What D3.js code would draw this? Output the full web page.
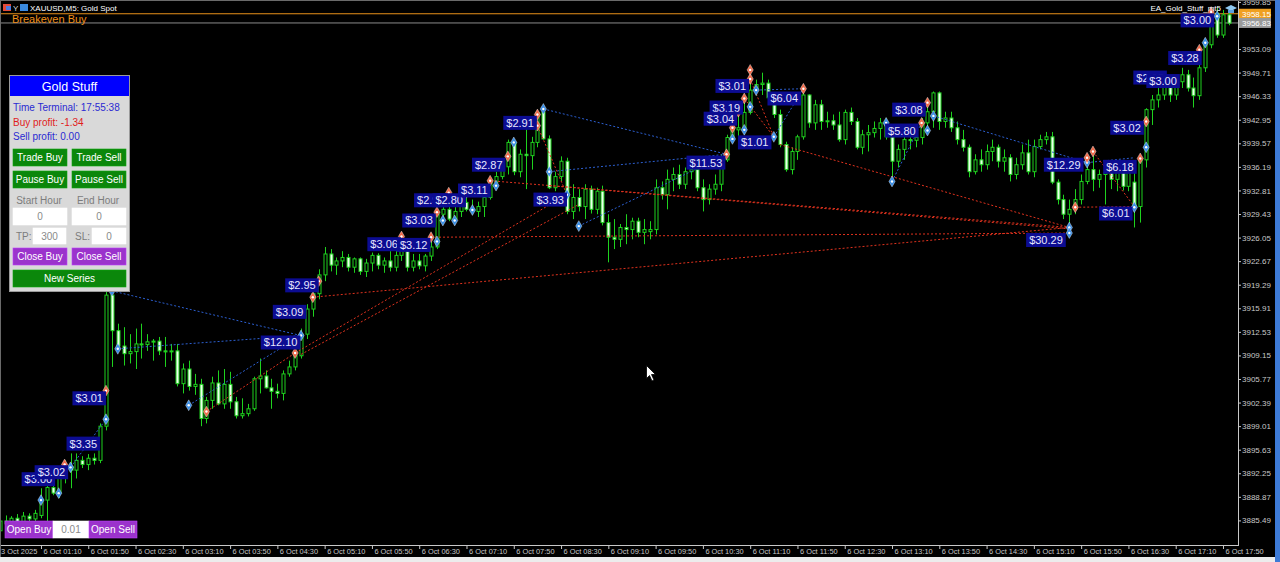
<!DOCTYPE html>
<html>
<head>
<meta charset="utf-8">
<script src="https://cdn.jsdelivr.net/npm/d3@7"></script>
<style>
  body { margin: 0; background: #000; overflow: hidden; }
  svg { display: block; }
  text { font-family: "Liberation Sans", Arial, sans-serif; }
</style>
</head>
<body>
<svg id="chart" width="1280" height="562"></svg>
<script>
// XAUUSD M5 bars, 3 Oct 23:35 .. 6 Oct 17:55
const opens = [3884.0,3885.4,3885.0,3885.8,3885.2,3886.1,3885.7,3886.2,3888.4,3890.2,
3889.4,3891.8,3893.2,3892.7,3894.1,3893.5,3894.4,3894.1,3899.0,3917.8,
3912.7,3910.5,3909.4,3909.7,3910.8,3910.7,3911.1,3911.2,3909.8,3909.7,
3909.8,3905.1,3907.2,3904.7,3905.0,3900.1,3902.7,3905.2,3902.2,3905.0,
3902.5,3900.5,3900.8,3901.5,3905.8,3906.2,3904.5,3904.0,3903.7,3906.5,
3907.5,3909.1,3912.2,3915.8,3918.0,3920.7,3923.7,3922.1,3922.7,3923.2,
3921.8,3923.0,3921.2,3922.4,3923.5,3922.1,3922.7,3921.8,3923.5,3925.1,
3921.8,3922.7,3922.0,3923.4,3924.7,3929.4,3930.1,3928.7,3929.8,3931.1,
3930.1,3929.8,3930.5,3931.8,3934.0,3934.8,3936.2,3939.7,3935.5,3938.0,
3937.8,3939.7,3944.0,3940.2,3933.2,3934.8,3937.0,3929.8,3931.8,3930.5,
3933.0,3930.1,3932.7,3928.2,3926.1,3925.8,3927.5,3927.2,3928.4,3926.8,
3926.9,3927.2,3933.2,3932.2,3934.4,3935.1,3933.7,3935.5,3935.8,3933.2,
3931.5,3933.0,3933.7,3937.2,3940.4,3941.5,3941.8,3944.0,3947.2,3948.0,
3948.2,3946.1,3943.7,3939.4,3935.8,3938.4,3940.5,3946.5,3942.5,3945.1,
3942.7,3942.8,3942.2,3940.1,3944.0,3942.7,3939.0,3940.8,3941.1,3941.7,
3942.5,3940.5,3937.0,3938.7,3940.1,3940.0,3940.4,3942.5,3944.1,3946.8,
3942.7,3943.2,3941.8,3940.1,3939.0,3935.5,3937.2,3936.5,3938.4,3939.0,
3937.0,3937.5,3935.1,3936.5,3938.2,3935.5,3939.1,3940.1,3940.5,3934.0,
3931.5,3929.4,3930.1,3931.5,3934.1,3935.8,3934.4,3935.1,3935.4,3934.4,
3935.4,3933.4,3934.0,3930.5,3937.2,3944.4,3945.8,3946.5,3948.0,3946.5,
3948.4,3949.4,3947.5,3946.4,3950.4,3953.7,3958.2,3955.1,3958.0];
const highs = [3885.8,3886.2,3886.1,3886.4,3886.7,3886.5,3887.0,3890.1,3890.5,3892.2,
3892.5,3894.1,3895.1,3895.1,3894.7,3895.0,3895.1,3899.4,3919.0,3918.7,
3913.7,3913.2,3912.2,3913.0,3913.7,3912.2,3911.5,3911.8,3911.8,3910.8,
3910.8,3908.0,3908.4,3906.5,3905.8,3903.2,3906.1,3907.0,3907.2,3906.8,
3903.2,3903.0,3902.2,3906.1,3908.7,3907.0,3905.8,3905.1,3907.0,3908.4,
3909.8,3913.0,3916.5,3918.7,3921.5,3924.7,3924.4,3923.2,3924.1,3923.7,
3923.2,3923.2,3923.0,3923.9,3923.8,3923.2,3924.1,3924.1,3926.4,3925.5,
3923.7,3923.7,3923.7,3925.8,3930.1,3930.8,3933.0,3931.5,3931.8,3933.0,
3931.5,3931.2,3932.7,3934.7,3935.5,3937.2,3940.1,3940.1,3938.7,3942.2,
3940.5,3944.1,3945.1,3940.7,3935.5,3937.7,3937.5,3933.7,3933.0,3933.7,
3933.5,3933.2,3933.5,3929.4,3928.7,3928.0,3929.4,3928.9,3928.9,3928.7,
3928.4,3934.4,3934.1,3935.8,3936.1,3936.5,3936.1,3937.0,3936.5,3934.4,
3933.7,3935.1,3938.0,3940.8,3942.2,3944.4,3946.1,3950.4,3948.7,3949.7,
3948.7,3946.5,3944.4,3939.8,3939.0,3940.8,3947.5,3946.6,3945.8,3945.8,
3944.1,3943.7,3944.1,3944.4,3944.7,3943.2,3941.5,3942.2,3942.7,3943.2,
3943.2,3941.2,3939.4,3940.8,3941.2,3941.5,3943.2,3945.8,3947.0,3947.0,
3944.1,3944.1,3942.7,3941.5,3939.4,3938.0,3938.7,3939.4,3940.1,3939.4,
3938.7,3938.0,3937.5,3939.4,3940.1,3940.1,3940.8,3941.2,3941.2,3934.4,
3932.2,3931.5,3933.0,3935.1,3937.2,3938.7,3935.8,3936.8,3936.1,3936.1,
3936.5,3936.5,3935.6,3937.6,3944.6,3946.5,3947.5,3949.0,3948.7,3949.0,
3950.4,3950.1,3949.0,3951.2,3954.4,3958.7,3959.0,3958.7,3958.4];
const lows = [3883.2,3884.7,3884.4,3884.8,3884.8,3885.1,3885.4,3885.8,3885.1,3889.1,
3888.7,3890.8,3890.1,3891.5,3893.0,3892.7,3893.5,3893.7,3898.4,3907.5,
3909.8,3907.7,3908.0,3907.2,3908.7,3909.8,3908.4,3909.2,3907.5,3908.4,
3904.7,3903.7,3904.1,3903.5,3899.0,3899.4,3901.5,3902.0,3901.5,3901.5,
3900.1,3900.1,3900.4,3901.2,3903.7,3904.4,3901.5,3903.0,3902.7,3906.1,
3907.0,3908.7,3911.5,3914.7,3917.2,3919.8,3921.2,3920.7,3921.8,3921.2,
3921.0,3920.7,3920.4,3921.2,3921.5,3921.0,3921.2,3921.2,3922.7,3921.2,
3921.2,3921.5,3921.2,3922.7,3924.4,3928.0,3928.4,3928.0,3929.0,3929.8,
3929.4,3929.0,3929.0,3931.5,3933.2,3934.4,3935.1,3935.0,3934.7,3933.0,
3935.8,3939.0,3940.1,3933.0,3932.7,3934.1,3929.4,3928.7,3929.8,3928.7,
3929.5,3929.4,3927.8,3922.5,3924.4,3924.7,3925.1,3925.8,3926.1,3925.1,
3925.8,3926.5,3931.5,3930.1,3932.7,3933.0,3933.0,3934.4,3932.7,3929.8,
3930.8,3932.2,3932.7,3936.9,3939.8,3940.5,3940.8,3943.7,3946.4,3946.5,
3945.8,3943.2,3939.0,3935.5,3935.1,3937.2,3940.1,3941.8,3941.5,3941.5,
3941.8,3941.5,3939.8,3939.4,3942.2,3938.7,3938.0,3938.4,3940.4,3940.1,
3940.1,3934.1,3936.1,3937.2,3938.7,3939.0,3939.4,3940.8,3941.8,3941.5,
3941.8,3941.2,3939.4,3938.4,3934.7,3935.1,3935.5,3935.8,3937.0,3936.1,
3935.5,3934.1,3934.4,3935.8,3935.1,3934.7,3938.7,3939.4,3933.7,3930.8,
3928.7,3926.5,3929.4,3930.8,3933.7,3932.7,3933.2,3930.8,3933.0,3932.7,
3932.8,3932.7,3927.5,3928.2,3936.1,3942.2,3944.7,3945.8,3945.5,3945.8,
3947.5,3947.0,3944.7,3945.8,3949.8,3953.2,3954.7,3954.7,3956.5];
const closes = [3885.4,3885.0,3885.8,3885.2,3886.1,3885.7,3886.5,3888.4,3890.2,3889.4,
3891.8,3893.2,3892.7,3894.1,3893.5,3894.4,3894.1,3899.0,3917.8,3912.7,
3910.5,3909.4,3909.7,3910.8,3910.7,3911.1,3911.2,3909.8,3909.7,3909.8,
3905.1,3907.2,3904.7,3905.0,3900.1,3902.7,3905.2,3902.2,3905.0,3902.5,
3900.5,3900.8,3901.5,3905.8,3906.2,3904.5,3904.0,3903.7,3906.5,3907.5,
3909.1,3912.2,3915.8,3918.0,3920.7,3923.7,3922.1,3922.7,3923.2,3921.8,
3923.0,3921.2,3922.4,3923.5,3922.1,3922.7,3921.8,3923.5,3925.1,3921.8,
3922.7,3922.0,3923.4,3924.7,3929.4,3930.1,3928.7,3929.8,3931.1,3930.1,
3929.8,3930.5,3931.8,3934.0,3934.8,3936.2,3939.7,3935.5,3938.0,3937.8,
3939.7,3944.0,3940.2,3933.2,3934.8,3937.0,3929.8,3931.8,3930.5,3933.0,
3930.1,3932.7,3928.2,3926.1,3925.8,3927.5,3927.2,3928.4,3926.8,3927.2,
3927.2,3933.2,3932.2,3934.4,3935.1,3933.7,3935.5,3935.8,3933.2,3931.5,
3933.0,3933.7,3937.2,3940.4,3941.5,3941.8,3944.0,3947.2,3948.0,3948.2,
3946.1,3943.7,3939.4,3935.8,3938.4,3940.5,3946.5,3942.5,3945.1,3942.7,
3942.8,3942.2,3940.1,3944.0,3942.7,3939.0,3940.8,3941.1,3941.7,3942.5,
3940.5,3937.0,3938.7,3940.1,3940.0,3940.4,3942.5,3944.1,3946.8,3942.7,
3943.2,3941.8,3940.1,3939.0,3935.5,3937.2,3936.5,3938.4,3939.0,3937.0,
3937.5,3935.1,3936.5,3938.2,3935.5,3939.1,3940.1,3940.5,3934.0,3931.5,
3929.4,3930.1,3931.5,3934.1,3935.8,3934.4,3935.1,3935.4,3934.4,3935.4,
3933.4,3935.4,3930.5,3937.2,3944.4,3945.8,3946.5,3948.0,3946.5,3948.4,
3949.4,3947.5,3946.4,3950.4,3953.7,3958.2,3955.1,3958.0,3956.8];

// time axis labels (bar index -> label)
const timeTickBars = [0,7,15,23,31,39,47,55,63,71,79,87,95,103,111,119,127,135,143,151,159,167,175,183,191,199,207];
const timeTickLabels = ['3 Oct 2025','6 Oct 01:10','6 Oct 01:50','6 Oct 02:30','6 Oct 03:10','6 Oct 03:50',
  '6 Oct 04:30','6 Oct 05:10','6 Oct 05:50','6 Oct 06:30','6 Oct 07:10','6 Oct 07:50','6 Oct 08:30',
  '6 Oct 09:10','6 Oct 09:50','6 Oct 10:30','6 Oct 11:10','6 Oct 11:50','6 Oct 12:30','6 Oct 13:10',
  '6 Oct 13:50','6 Oct 14:30','6 Oct 15:10','6 Oct 15:50','6 Oct 16:30','6 Oct 17:10','6 Oct 17:50'];

// price axis ticks (the one under the price boxes is hidden on the terminal)
const priceTicks = [3885.49,3888.87,3892.25,3895.63,3899.01,3902.39,3905.77,3909.15,3912.53,3915.91,
  3919.29,3922.67,3926.05,3929.43,3932.81,3936.19,3939.57,3942.95,3946.33,3949.71,3953.09,3959.85];
const breakevenPrice = 3958.15;
const bidPrice = 3956.83;

// deal arrows: [bar, price]
const buyDeals = [[7,3888.4],[10,3889.4],[12,3893.1],[18,3900.0],[19,3918.4],[20,3910.1],[32,3902.0],[51,3912.0],
  [74,3925.5],[75,3928.5],[77,3928.5],[80,3930.0],[84,3933.5],[87,3939.7],[92,3944.5],[93,3935.5],[96,3932.2],
  [98,3927.7],[124,3940.2],[126,3941.5],[127,3944.8],[128,3947.2],[131,3940.5],[150,3942.5],[151,3934.1],
  [157,3941.4],[158,3943.5],[181,3927.5],[181,3926.7],[184,3936.8],[192,3930.4],[194,3939.0],[204,3954.0],[206,3957.8]];
const sellDeals = [[9,3892.5],[11,3893.5],[18,3904.1],[35,3901.1],[50,3909.5],[53,3917.5],[54,3919.8],[68,3926.2],
  [73,3926.1],[74,3929.7],[76,3932.5],[79,3932.5],[83,3934.2],[86,3937.7],[91,3943.7],[91,3942.1],[123,3938.0],
  [124,3941.8],[125,3944.1],[126,3946.0],[127,3948.8],[127,3950.1],[136,3947.4],[156,3942.5],[157,3945.4],
  [182,3930.4],[184,3937.5],[185,3938.4],[193,3937.4],[194,3942.7],[203,3953.0],[205,3958.4]];

// trade lines: [entryBar, entryPrice, exitBar, exitPrice]
const buyTrades = [[12,3893.1,18,3900.0],[19,3918.4,51,3912.0],[20,3910.1,51,3912.0],[32,3902.0,51,3912.0],
  [92,3944.5,123,3938.0],[93,3935.5,123,3938.0],[98,3927.7,123,3938.0],[128,3947.2,136,3947.4],
  [131,3940.5,136,3947.4],[151,3934.1,156,3942.5],[158,3943.5,184,3936.8],[184,3936.8,192,3937.5]];
const sellTrades = [[35,3901.1,50,3909.5],[50,3909.5,96,3932.2],[51,3909.3,98,3930.8],[53,3917.5,181,3927.5],
  [73,3926.1,181,3926.7],[83,3934.2,181,3927.5],[91,3942.1,96,3932.2],[93,3933.5,181,3927.3],
  [127,3948.8,131,3940.5],[126,3946.0,131,3940.5],[132,3939.4,181,3927.5],[182,3930.4,192,3930.5],
  [185,3938.4,192,3930.5]];

// profit labels: right edge bar, price, text
const profitBars = [9.4,11.6,17.0,18.0,50.9,51.9,54.0,67.9,72.9,73.8,75.8,78.9,83.1,85.6,90.9,96.0,
  122.8,126.8,125.8,124.8,130.6,135.6,156.7,155.5,183.4,192.4,191.7,180.4,193.6,197.5,199.7,203.4,205.5];
const profitPrices = [3891.4,3892.4,3896.5,3903.0,3911.0,3915.4,3919.2,3925.1,3925.0,3928.5,3931.4,3931.4,
  3932.8,3936.5,3942.5,3931.5,3936.8,3947.8,3944.7,3943.1,3939.7,3946.0,3944.4,3941.4,3936.5,3936.2,
  3929.5,3925.7,3941.8,3949.0,3948.5,3951.8,3957.2];
const profitTexts = ['$3.00','$3.02','$3.35','$3.01','$12.10','$3.09','$2.95','$3.06','$3.12','$3.03','$2.92',
  '$2.80','$3.11','$2.87','$2.91','$3.93','$11.53','$3.01','$3.19','$3.04','$1.01','$6.04','$3.08','$5.80',
  '$12.29','$6.18','$6.01','$30.29','$3.02','$2.95','$3.00','$3.28','$3.00'];

const svg = d3.select('#chart');
const plotRight = 1238, plotBottom = 545;

svg.append('rect').attr('width', 1280).attr('height', 562).attr('fill', '#000');

const x = d3.scaleLinear().domain([0, 208]).range([-0.4, 1228.9]);
const y = d3.scaleLinear().domain([3885.49, 3959.85]).range([520.4, 1.9]);

const plot = svg.append('g');

// breakeven + bid lines
plot.append('line').attr('x1', 0).attr('x2', plotRight).attr('y1', y(breakevenPrice)).attr('y2', y(breakevenPrice))
  .attr('stroke', '#e8901a').attr('stroke-width', 1);
plot.append('line').attr('x1', 0).attr('x2', plotRight).attr('y1', y(bidPrice)).attr('y2', y(bidPrice))
  .attr('stroke', '#8a8a8a').attr('stroke-width', 1);

// candles
const bars = d3.range(opens.length);
const green = '#1ed21e';
plot.selectAll('.wick').data(bars).join('line')
  .attr('class', 'wick')
  .attr('x1', d => Math.round(x(d)) + 0.5).attr('x2', d => Math.round(x(d)) + 0.5)
  .attr('y1', d => y(highs[d])).attr('y2', d => y(lows[d]))
  .attr('stroke', green).attr('stroke-width', 1);
plot.selectAll('.body').data(bars).join('rect')
  .attr('class', 'body')
  .attr('x', d => Math.round(x(d)) - 1)
  .attr('width', 3)
  .attr('y', d => y(Math.max(opens[d], closes[d])))
  .attr('height', d => Math.max(1, Math.abs(y(opens[d]) - y(closes[d]))))
  .attr('fill', d => closes[d] >= opens[d] ? '#000' : '#eaffea')
  .attr('stroke', green).attr('stroke-width', 1);

// trade lines
const tradeLine = (data, color) => plot.append('g').selectAll('line').data(data).join('line')
  .attr('x1', d => x(d[0])).attr('y1', d => y(d[1]))
  .attr('x2', d => x(d[2])).attr('y2', d => y(d[3]))
  .attr('stroke', color).attr('stroke-width', 1).attr('stroke-dasharray', '2,2');
tradeLine(buyTrades, '#2c5fd0');
tradeLine(sellTrades, '#e0321e');

// deal markers
const diamond = d3.symbol(d3.symbolDiamond).size(34);
const dealMark = (data, color) => {
  const g = plot.append('g').selectAll('g').data(data).join('g')
    .attr('transform', d => `translate(${x(d[0])},${y(d[1])})`);
  g.append('path').attr('d', diamond).attr('fill', color).attr('stroke', '#fff').attr('stroke-width', 0.6).attr('stroke-opacity', 0.6);
  g.append('circle').attr('r', 1.2).attr('fill', '#fff');
};
dealMark(buyDeals, '#3a8ee6');
dealMark(sellDeals, '#f06a4a');

// profit labels
const labels = plot.append('g').selectAll('g').data(profitTexts).join('g')
  .attr('transform', (d, i) => `translate(${x(profitBars[i])},${y(profitPrices[i])})`);
labels.append('rect').attr('fill', '#0c0c92');
labels.append('text').text(d => d)
  .attr('fill', '#e6e6ff').attr('font-size', 11).attr('text-anchor', 'end')
  .attr('x', -3).attr('dy', '0.36em');
labels.each(function () {
  const g = d3.select(this);
  const w = g.select('text').node().getComputedTextLength();
  g.select('rect').attr('x', -w - 6).attr('y', -7).attr('width', w + 6).attr('height', 14);
});

// axes
const yAxis = d3.axisRight(y).tickValues(priceTicks).tickSize(3).tickFormat(d3.format('.2f'));
const yAxisG = svg.append('g').attr('transform', `translate(${plotRight},0)`).call(yAxis);
yAxisG.select('.domain').remove();
yAxisG.selectAll('.tick line').attr('stroke', '#c8c8c8');
yAxisG.selectAll('.tick text').attr('fill', '#c8c8c8').attr('x', 4)
  .style('font-size', '8px').style('font-family', '"Liberation Sans", Arial, sans-serif');

const xAxis = d3.axisBottom(x).tickValues(timeTickBars).tickSize(4).tickFormat((d, i) => timeTickLabels[i]);
const xAxisG = svg.append('g').attr('transform', `translate(0,${plotBottom})`).call(xAxis);
xAxisG.select('.domain').remove();
xAxisG.selectAll('.tick line').attr('stroke', '#c8c8c8');
xAxisG.selectAll('.tick text').attr('fill', '#c8c8c8').attr('text-anchor', 'start').attr('x', 2).attr('y', 4)
  .style('font-size', '7.4px').style('font-family', '"Liberation Sans", Arial, sans-serif');
xAxisG.select('.tick text').attr('x', 1);

svg.append('line').attr('x1', plotRight + 0.5).attr('x2', plotRight + 0.5).attr('y1', 0).attr('y2', plotBottom + 1)
  .attr('stroke', '#c8c8c8');
svg.append('line').attr('x1', 0).attr('x2', plotRight).attr('y1', plotBottom + 0.5).attr('y2', plotBottom + 0.5)
  .attr('stroke', '#c8c8c8');

// price boxes on the axis
const priceBox = (p, bg, fg) => {
  svg.append('rect').attr('x', plotRight + 1).attr('y', y(p) - 5).attr('width', 32).attr('height', 10).attr('fill', bg);
  svg.append('text').attr('x', plotRight + 4).attr('y', y(p)).attr('dy', '0.35em').attr('fill', fg)
    .attr('font-size', 8).text(p.toFixed(2));
};
priceBox(breakevenPrice, '#f0a020', '#fff');
priceBox(bidPrice, '#9a9a9a', '#fff');

// window frame
svg.append('rect').attr('x', 0).attr('y', 557).attr('width', 1280).attr('height', 5).attr('fill', '#ececec');
svg.append('rect').attr('x', 1275).attr('y', 0).attr('width', 5).attr('height', 562).attr('fill', '#3d7ad6');
svg.append('line').attr('x1', 0).attr('x2', 1275).attr('y1', 0.5).attr('y2', 0.5).attr('stroke', '#6a6a6a');
svg.append('line').attr('x1', 0.5).attr('x2', 0.5).attr('y1', 0).attr('y2', 557).attr('stroke', '#6a6a6a');

// header
svg.append('rect').attr('x', 3).attr('y', 4).attr('width', 8).attr('height', 7).attr('fill', '#e04a3a');
svg.append('rect').attr('x', 6).attr('y', 6).attr('width', 5).attr('height', 4).attr('fill', '#4a7ae0');
svg.append('text').attr('x', 13).attr('y', 11).attr('fill', '#ddd').attr('font-size', 8).text('Y');
svg.append('rect').attr('x', 20).attr('y', 4).attr('width', 8).attr('height', 7).attr('fill', '#3a8ae0');
svg.append('text').attr('x', 30).attr('y', 11).attr('fill', '#fff').attr('font-size', 8).text('XAUUSD,M5:  Gold Spot');
svg.append('text').attr('x', 12).attr('y', 23).attr('fill', '#f0901a').attr('font-size', 11).text('Breakeven Buy');
svg.append('text').attr('x', 1221).attr('y', 11).attr('fill', '#fff').attr('font-size', 8).attr('text-anchor', 'end')
  .text('EA_Gold_Stuff_mt5');
svg.append('path').attr('d', 'M1225,8 L1231,5 L1237,8 L1231,11 Z').attr('fill', '#8ec8f0');
svg.append('path').attr('d', 'M1228,10 L1228,13 L1234,13 L1234,10').attr('fill', '#5aa0e0');

// EA panel
const panel = svg.append('g');
panel.append('rect').attr('x', 9.5).attr('y', 75.5).attr('width', 120).attr('height', 216)
  .attr('fill', '#d9d9d9').attr('stroke', '#9a9a9a');
panel.append('rect').attr('x', 10).attr('y', 76).attr('width', 119).attr('height', 20).attr('fill', '#0000ff');
panel.append('text').attr('x', 69.5).attr('y', 86).attr('dy', '0.36em').attr('text-anchor', 'middle')
  .attr('fill', '#fff').attr('font-size', 12.5).text('Gold Stuff');
const infoLines = [['Time Terminal: 17:55:38', '#2a2ad2', 107], ['Buy profit: -1.34', '#e01c1c', 122], ['Sell profit: 0.00', '#2a2ad2', 136]];
panel.selectAll('.info').data(infoLines).join('text').attr('class', 'info')
  .attr('x', 13).attr('y', d => d[2]).attr('dy', '0.36em').attr('fill', d => d[1]).attr('font-size', 10).text(d => d[0]);

const button = (g, bx, by, w, h, fill, label, fg) => {
  g.append('rect').attr('x', bx).attr('y', by).attr('width', w).attr('height', h).attr('fill', fill)
    .attr('stroke', d3.color(fill).brighter(0.6)).attr('stroke-width', 0.6);
  g.append('text').attr('x', bx + w / 2).attr('y', by + h / 2).attr('dy', '0.36em').attr('text-anchor', 'middle')
    .attr('fill', fg || '#fff').attr('font-size', 10).text(label);
};
const btnGreen = '#0b870b', btnPurple = '#9b33cc';
button(panel, 13, 149, 54, 17, btnGreen, 'Trade Buy');
button(panel, 72, 149, 54, 17, btnGreen, 'Trade Sell');
button(panel, 13, 171, 54, 17, btnGreen, 'Pause Buy');
button(panel, 72, 171, 54, 17, btnGreen, 'Pause Sell');
panel.append('text').attr('x', 39).attr('y', 200).attr('dy', '0.36em').attr('text-anchor', 'middle')
  .attr('fill', '#7c7c7c').attr('font-size', 10).text('Start Hour');
panel.append('text').attr('x', 98).attr('y', 200).attr('dy', '0.36em').attr('text-anchor', 'middle')
  .attr('fill', '#7c7c7c').attr('font-size', 10).text('End Hour');
button(panel, 13, 208, 54, 17, '#ffffff', '0', '#8a8a8a');
button(panel, 72, 208, 54, 17, '#ffffff', '0', '#8a8a8a');
panel.append('text').attr('x', 16).attr('y', 236).attr('dy', '0.36em').attr('fill', '#7c7c7c').attr('font-size', 10).text('TP:');
button(panel, 33, 228, 33, 16, '#ffffff', '300', '#8a8a8a');
panel.append('text').attr('x', 75).attr('y', 236).attr('dy', '0.36em').attr('fill', '#7c7c7c').attr('font-size', 10).text('SL:');
button(panel, 92, 228, 34, 16, '#ffffff', '0', '#8a8a8a');
button(panel, 13, 248, 54, 17, btnPurple, 'Close Buy');
button(panel, 72, 248, 54, 17, btnPurple, 'Close Sell');
button(panel, 13, 270, 113, 17, btnGreen, 'New Series');

// one-click trading
const oneClick = svg.append('g');
button(oneClick, 5, 521, 48, 17, btnPurple, 'Open Buy');
button(oneClick, 53, 521, 36, 17, '#ffffff', '0.01', '#8a8a8a');
button(oneClick, 89, 521, 48, 17, btnPurple, 'Open Sell');

// mouse cursor
svg.append('path')
  .attr('d', 'M646.5,365.5 L646.5,378.5 L649.5,375.5 L652,381 L654,380 L651.5,374.5 L655.5,374.5 Z')
  .attr('fill', '#fff').attr('stroke', '#000').attr('stroke-width', 0.8);
</script>
</body>
</html>
